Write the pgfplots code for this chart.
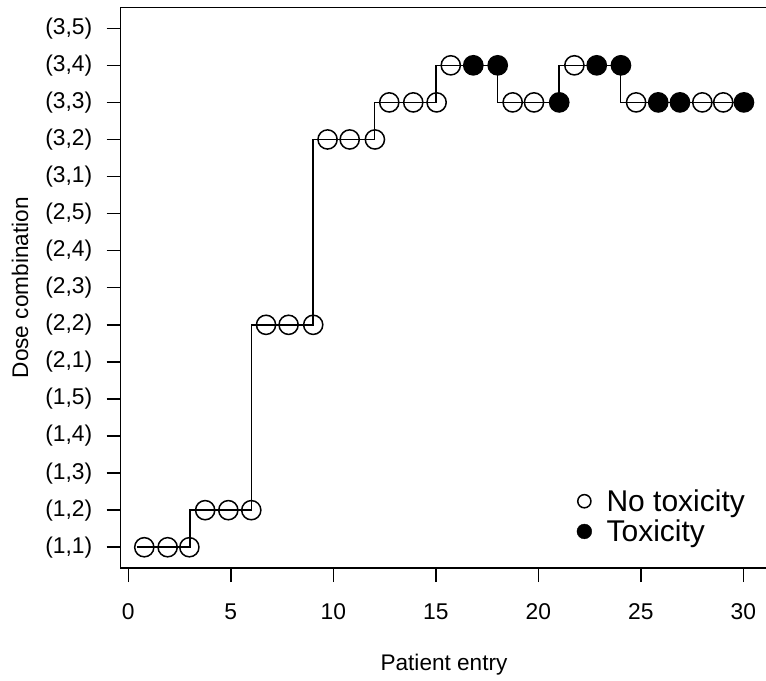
\documentclass[border=0pt]{standalone}
\usepackage{fontspec}
\setmainfont{Liberation Sans}
\usepackage{pgfplots}
\pgfplotsset{compat=1.18}
\begin{document}
\begin{tikzpicture}
\useasboundingbox (-120.7bp,-113bp) rectangle (645.3bp,568bp);
\begin{axis}[
  at={(0,0)}, anchor=south west,
  scale only axis, width=646.6bp, height=560.5bp,
  xmin=-0.37, xmax=31.17, ymin=0.44, ymax=15.56,
  axis line style={line width=1.5bp},
  tick pos=left, tick align=outside, major tick length=14bp,
  tick style={black, line width=1.5bp},
  xtick={0,5,...,30},
  ytick={1,...,15},
  yticklabels={(1,1),(1,2),(1,3),(1,4),(1,5),(2,1),(2,2),(2,3),(2,4),(2,5),(3,1),(3,2),(3,3),(3,4),(3,5)},
  ticklabel style={font=\fontsize{22.8bp}{26bp}\selectfont},
  xticklabel style={yshift=-18bp},
  yticklabel style={xshift=-11bp},
  /pgf/number format/assume math mode=true,
  xlabel={Patient entry}, ylabel={Dose combination},
  label style={font=\fontsize{22.6bp}{26bp}\selectfont},
  xlabel style={at={(axis description cs:0.5,-0.173)}, anchor=center},
  ylabel style={at={(axis description cs:-0.1557,0.5)}, anchor=center},
  legend style={at={(axis cs:21.72,1.0)}, anchor=south west, draw=none, fill=none,
    font=\fontsize{30bp}{34bp}\selectfont, row sep=3bp},
  legend cell align=left,
]
% step line of assigned dose
\addplot[forget plot, black, line width=1.5bp, sharp plot] coordinates {
  (0.42,1) (3,1) (3,2) (6,2) (6,7) (9,7) (9,12) (12,12) (12,13) (15,13)
  (15,14) (18,14) (18,13) (21,13) (21,14) (24,14) (24,13) (30,13)
};
% no toxicity
\addplot[forget plot, only marks, mark=o, mark size=9.6bp, black, line width=1.5bp] coordinates {
  (0.78,1) (1.92,1) (2.98,1) (3.75,2) (4.88,2) (6.0,2) (6.72,7) (7.82,7) (9.02,7)
  (9.72,12) (10.8,12) (12.03,12) (12.73,13) (13.9,13) (15.04,13) (15.73,14)
  (18.75,13) (19.79,13) (21.76,14) (24.77,13) (28.0,13) (29.02,13)
};
% toxicity
\addplot[forget plot, only marks, mark=*, mark size=9.6bp, black, fill=black, line width=1.5bp] coordinates {
  (16.83,14) (18.02,14) (21.02,13) (22.85,14) (24.03,14) (25.85,13) (26.91,13) (30.03,13)
};
\addlegendimage{legend image code/.code={\draw[black, line width=1.5bp] (0,0) circle (6.6bp); \path (20bp,0);}}
\addlegendentry{No toxicity}
\addlegendimage{legend image code/.code={\fill[black] (0,0) circle (7.4bp); \path (20bp,0);}}
\addlegendentry{Toxicity}
\end{axis}
\end{tikzpicture}
\end{document}
